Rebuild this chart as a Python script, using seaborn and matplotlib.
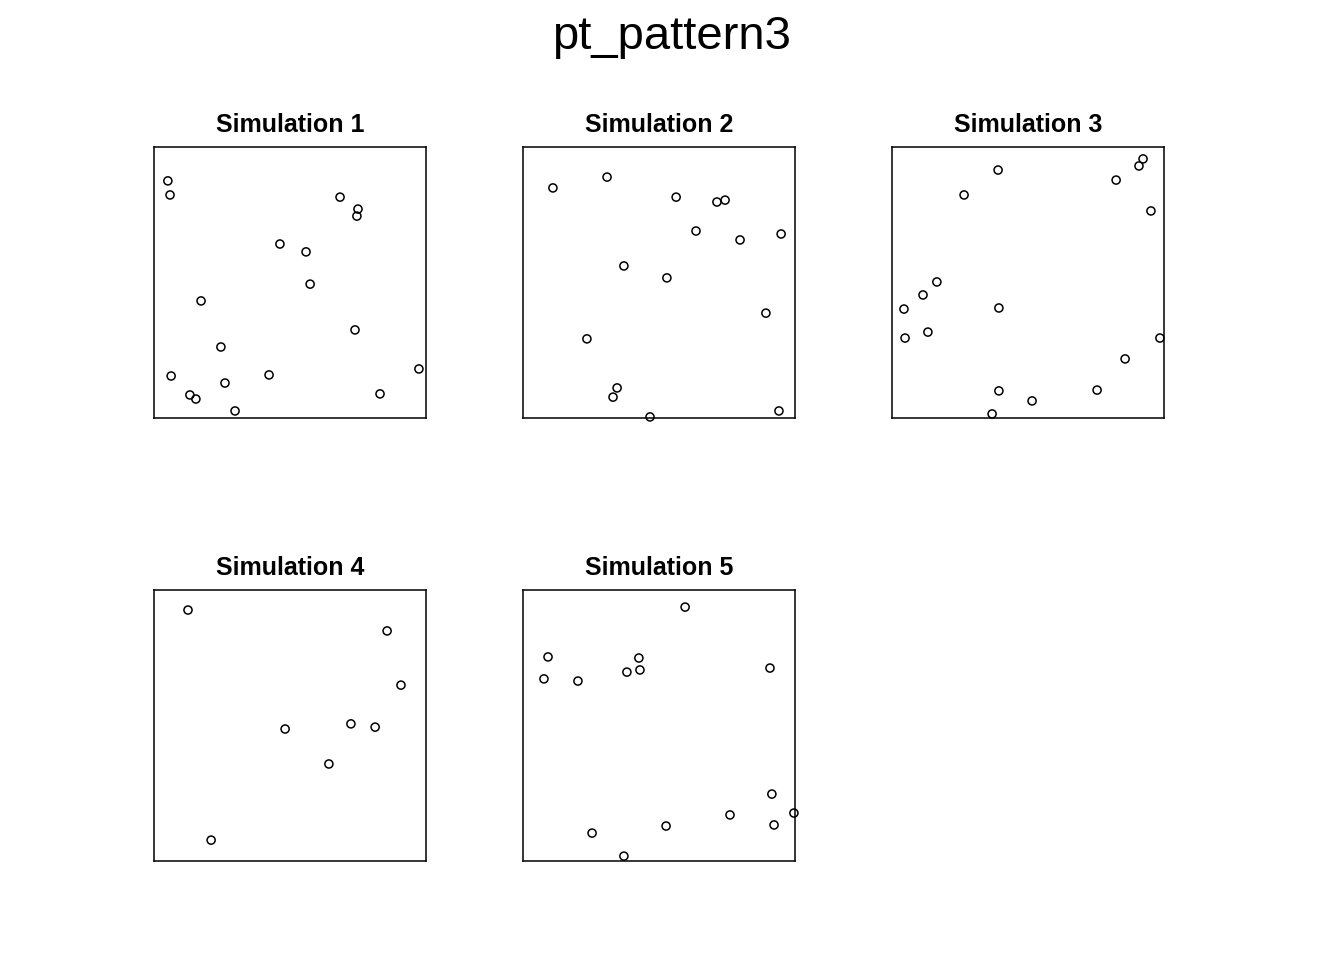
import matplotlib
matplotlib.use("Agg")
import matplotlib.pyplot as plt
import seaborn as sns
import pandas as pd

sns.set_style("white")
plt.rcParams['font.family'] = ['Liberation Sans', 'DejaVu Sans']
plt.rcParams['text.color'] = 'black'
plt.rcParams['axes.titlecolor'] = 'black'

sim1_x = [0.051, 0.059, 0.684, 0.750, 0.746, 0.463, 0.559, 0.574, 0.173, 0.739, 0.246, 0.063, 0.423, 0.261, 0.132, 0.154, 0.831, 0.298, 0.974]
sim1_y = [0.875, 0.823, 0.815, 0.771, 0.745, 0.642, 0.613, 0.494, 0.432, 0.325, 0.262, 0.155, 0.159, 0.129, 0.085, 0.070, 0.089, 0.026, 0.181]

sim2_x = [0.110, 0.309, 0.563, 0.713, 0.743, 0.636, 0.798, 0.949, 0.371, 0.529, 0.893, 0.235, 0.346, 0.331, 0.467, 0.941]
sim2_y = [0.849, 0.889, 0.815, 0.797, 0.804, 0.690, 0.657, 0.679, 0.561, 0.517, 0.387, 0.292, 0.111, 0.077, 0.004, 0.026]

sim3_x = [0.390, 0.923, 0.908, 0.824, 0.265, 0.952, 0.165, 0.114, 0.044, 0.393, 0.048, 0.132, 0.985, 0.857, 0.393, 0.754, 0.515, 0.368]
sim3_y = [0.915, 0.956, 0.930, 0.878, 0.823, 0.764, 0.502, 0.454, 0.402, 0.406, 0.295, 0.317, 0.295, 0.218, 0.100, 0.103, 0.063, 0.015]

sim4_x = [0.125, 0.857, 0.908, 0.482, 0.724, 0.813, 0.643, 0.210]
sim4_y = [0.926, 0.849, 0.649, 0.487, 0.506, 0.494, 0.358, 0.077]

sim5_x = [0.596, 0.092, 0.426, 0.077, 0.202, 0.382, 0.430, 0.908, 0.915, 0.996, 0.761, 0.923, 0.526, 0.254, 0.371]
sim5_y = [0.937, 0.753, 0.749, 0.672, 0.664, 0.697, 0.705, 0.712, 0.247, 0.177, 0.170, 0.133, 0.129, 0.103, 0.018]

titles = ["Simulation 1", "Simulation 2", "Simulation 3", "Simulation 4", "Simulation 5"]
sims = [(sim1_x, sim1_y), (sim2_x, sim2_y), (sim3_x, sim3_y), (sim4_x, sim4_y), (sim5_x, sim5_y)]

W, H = 1344, 960
fig = plt.figure(figsize=(W / 100, H / 100), dpi=100)

lefts = [154, 523, 892, 154, 523]
bottoms = [418, 418, 418, 861, 861]
size = 272

for (xs, ys), title, l, b in zip(sims, titles, lefts, bottoms):
    ax = fig.add_axes([l / W, 1 - b / H, size / W, 271 / H])
    df = pd.DataFrame({"x": xs, "y": ys})
    sns.scatterplot(data=df, x="x", y="y", ax=ax, marker="o", s=34,
                    facecolor="none", edgecolor="black", linewidth=1.1,
                    clip_on=False, zorder=3)
    ax.set_xlim(0, 1)
    ax.set_ylim(0, 1)
    ax.set_xticks([])
    ax.set_yticks([])
    ax.set_xlabel("")
    ax.set_ylabel("")
    for sp in ax.spines.values():
        sp.set_visible(True)
        sp.set_color("black")
        sp.set_linewidth(1.1)
    ax.set_title(title, fontsize=18, fontweight="bold", pad=10.5, color="black")

fig.text(0.5, 1 - 37 / H, "pt_pattern3", ha="center", va="center", fontsize=34, color="black")

fig.savefig("out.png", dpi=100, facecolor="white")
